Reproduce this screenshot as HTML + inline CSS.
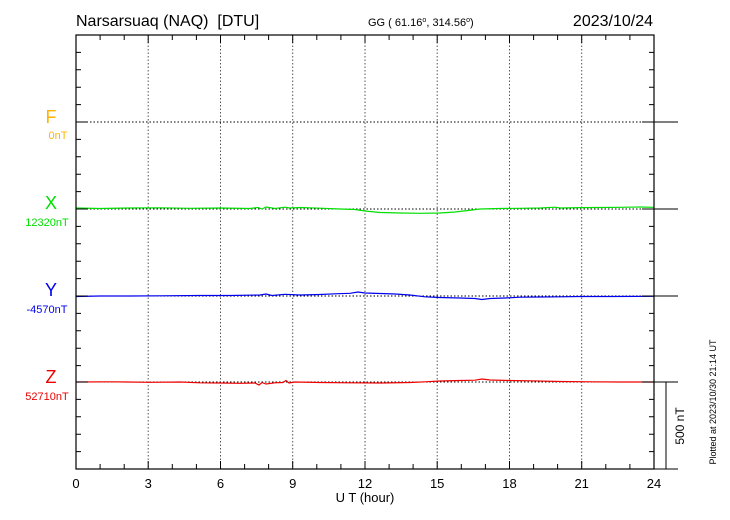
<!DOCTYPE html>
<html><head><meta charset="utf-8"><style>
body{margin:0;background:#fff}
svg{display:block;font-family:"Liberation Sans",sans-serif}
text{white-space:pre}
</style></head><body>
<svg width="730" height="520" viewBox="0 0 730 520" xmlns="http://www.w3.org/2000/svg">
<rect width="730" height="520" fill="#fff"/>
<text x="76" y="26" font-size="16" fill="#000" xml:space="preserve">Narsarsuaq (NAQ)  [DTU]</text>
<text x="368" y="26" font-size="11" fill="#000">GG ( 61.16<tspan dy="-4" font-size="7">o</tspan><tspan dy="4">, 314.56</tspan><tspan dy="-4" font-size="7">o</tspan><tspan dy="4">)</tspan></text>
<text x="653" y="26" font-size="16" fill="#000" text-anchor="end">2023/10/24</text>
<g stroke="#555" stroke-width="1" stroke-dasharray="1.5,2">
<line x1="148.2" y1="35" x2="148.2" y2="469"/><line x1="220.5" y1="35" x2="220.5" y2="469"/><line x1="292.7" y1="35" x2="292.7" y2="469"/><line x1="365" y1="35" x2="365" y2="469"/><line x1="437.2" y1="35" x2="437.2" y2="469"/><line x1="509.5" y1="35" x2="509.5" y2="469"/><line x1="581.7" y1="35" x2="581.7" y2="469"/>
</g>
<g stroke="#000" stroke-width="1" stroke-dasharray="1.5,2">
<line x1="76" y1="122" x2="654" y2="122"/><line x1="76" y1="209" x2="654" y2="209"/><line x1="76" y1="296" x2="654" y2="296"/><line x1="76" y1="382" x2="654" y2="382"/>
</g>
<polyline fill="none" stroke="#00e000" stroke-width="1.2" points="76,208 100,208.5 130,208 160,207.8 190,208.3 220,208 250,208.5 258,207.5 262,209 266,207 275,208.5 285,207.2 290,208 300,207.5 320,208.2 340,209 355,209.5 365,211 380,212.5 400,213 420,213.3 440,213 455,212 468,210.5 480,209 500,208.5 520,208.3 540,208 555,207.2 560,208 580,207.6 600,207.5 620,207.3 640,207 654,207.3"/>
<polyline fill="none" stroke="#0000ee" stroke-width="1.2" points="76,296.5 100,296 130,296 160,295.8 200,295.5 230,295.5 260,295 266,294 272,295.5 285,294.3 300,295 320,294.5 335,293.8 350,293.3 358,292 365,293 380,293.5 395,294 410,295 425,296.8 440,297.5 460,298 475,298.5 482,299.5 490,298.5 505,298 520,297.2 540,297 560,296.8 580,296.5 610,296.5 654,296.3"/>
<polyline fill="none" stroke="#ee0000" stroke-width="1.2" points="76,382 110,381.8 150,382.3 180,382 200,382.8 220,383 240,383.3 255,383 259,385 262,382.5 266,384 275,382.8 283,382.5 286,380.5 289,383 295,382 320,382.5 350,382.8 380,383 410,382.5 425,381.8 440,381 460,380.5 475,380.2 482,379 490,380 510,380.5 530,380.8 560,381.5 590,381.8 620,382 654,382"/>
<rect x="76" y="35" width="578" height="434" fill="none" stroke="#000" stroke-width="1.2"/>
<g stroke="#000" stroke-width="1">
<path d="M100.1,469v-5M124.2,469v-5M172.3,469v-5M196.4,469v-5M244.6,469v-5M268.6,469v-5M316.8,469v-5M340.9,469v-5M389.1,469v-5M413.1,469v-5M461.3,469v-5M485.4,469v-5M533.6,469v-5M557.6,469v-5M605.8,469v-5M629.9,469v-5"/>
<path d="M148.2,469v-8M220.5,469v-8M292.7,469v-8M365,469v-8M437.2,469v-8M509.5,469v-8M581.7,469v-8"/>
<path d="M100.1,35v5M124.2,35v5M172.3,35v5M196.4,35v5M244.6,35v5M268.6,35v5M316.8,35v5M340.9,35v5M389.1,35v5M413.1,35v5M461.3,35v5M485.4,35v5M533.6,35v5M557.6,35v5M605.8,35v5M629.9,35v5"/>
<path d="M148.2,35v8M220.5,35v8M292.7,35v8M365,35v8M437.2,35v8M509.5,35v8M581.7,35v8"/>
<path d="M76,52.4h5M76,69.8h5M76,87.2h5M76,104.6h5M76,139.4h5M76,156.8h5M76,174.2h5M76,191.6h5M76,226.4h5M76,243.8h5M76,261.2h5M76,278.6h5M76,313.4h5M76,330.8h5M76,348.2h5M76,365.6h5M76,399.4h5M76,416.8h5M76,434.2h5M76,451.6h5"/>
<path d="M654,52.4h-5M654,69.8h-5M654,87.2h-5M654,104.6h-5M654,139.4h-5M654,156.8h-5M654,174.2h-5M654,191.6h-5M654,226.4h-5M654,243.8h-5M654,261.2h-5M654,278.6h-5M654,313.4h-5M654,330.8h-5M654,348.2h-5M654,365.6h-5M654,399.4h-5M654,416.8h-5M654,434.2h-5M654,451.6h-5"/>
<path d="M76,122h12M76,209h12M76,296h12M76,382h12"/>
<path d="M642,122h36M642,209h36M642,296h36M642,382h36M654,469h24"/>
<path d="M666,382v87"/>
</g>
<g font-size="13" text-anchor="middle" fill="#000">
<text x="76" y="488">0</text><text x="148.2" y="488">3</text><text x="220.5" y="488">6</text><text x="292.7" y="488">9</text><text x="365" y="488">12</text><text x="437.2" y="488">15</text><text x="509.5" y="488">18</text><text x="581.7" y="488">21</text><text x="654" y="488">24</text>
<text x="365" y="502">U T (hour)</text>
</g>
<g text-anchor="middle">
<text x="51" y="123" font-size="18" fill="#ffb400">F</text><text x="58" y="139" font-size="11" fill="#ffb400">0nT</text>
<text x="51" y="209" font-size="18" fill="#00e000">X</text><text x="47" y="226" font-size="11" fill="#00e000">12320nT</text>
<text x="51" y="296" font-size="18" fill="#0000ee">Y</text><text x="47" y="313" font-size="11" fill="#0000ee">-4570nT</text>
<text x="51" y="383" font-size="18" fill="#ee0000">Z</text><text x="47" y="400" font-size="11" fill="#ee0000">52710nT</text>
</g>
<text transform="translate(684,426) rotate(-90)" font-size="12" text-anchor="middle">500 nT</text>
<text transform="translate(716,402) rotate(-90)" font-size="9" text-anchor="middle">Plotted at 2023/10/30 21:14 UT</text>
</svg>
</body></html>
